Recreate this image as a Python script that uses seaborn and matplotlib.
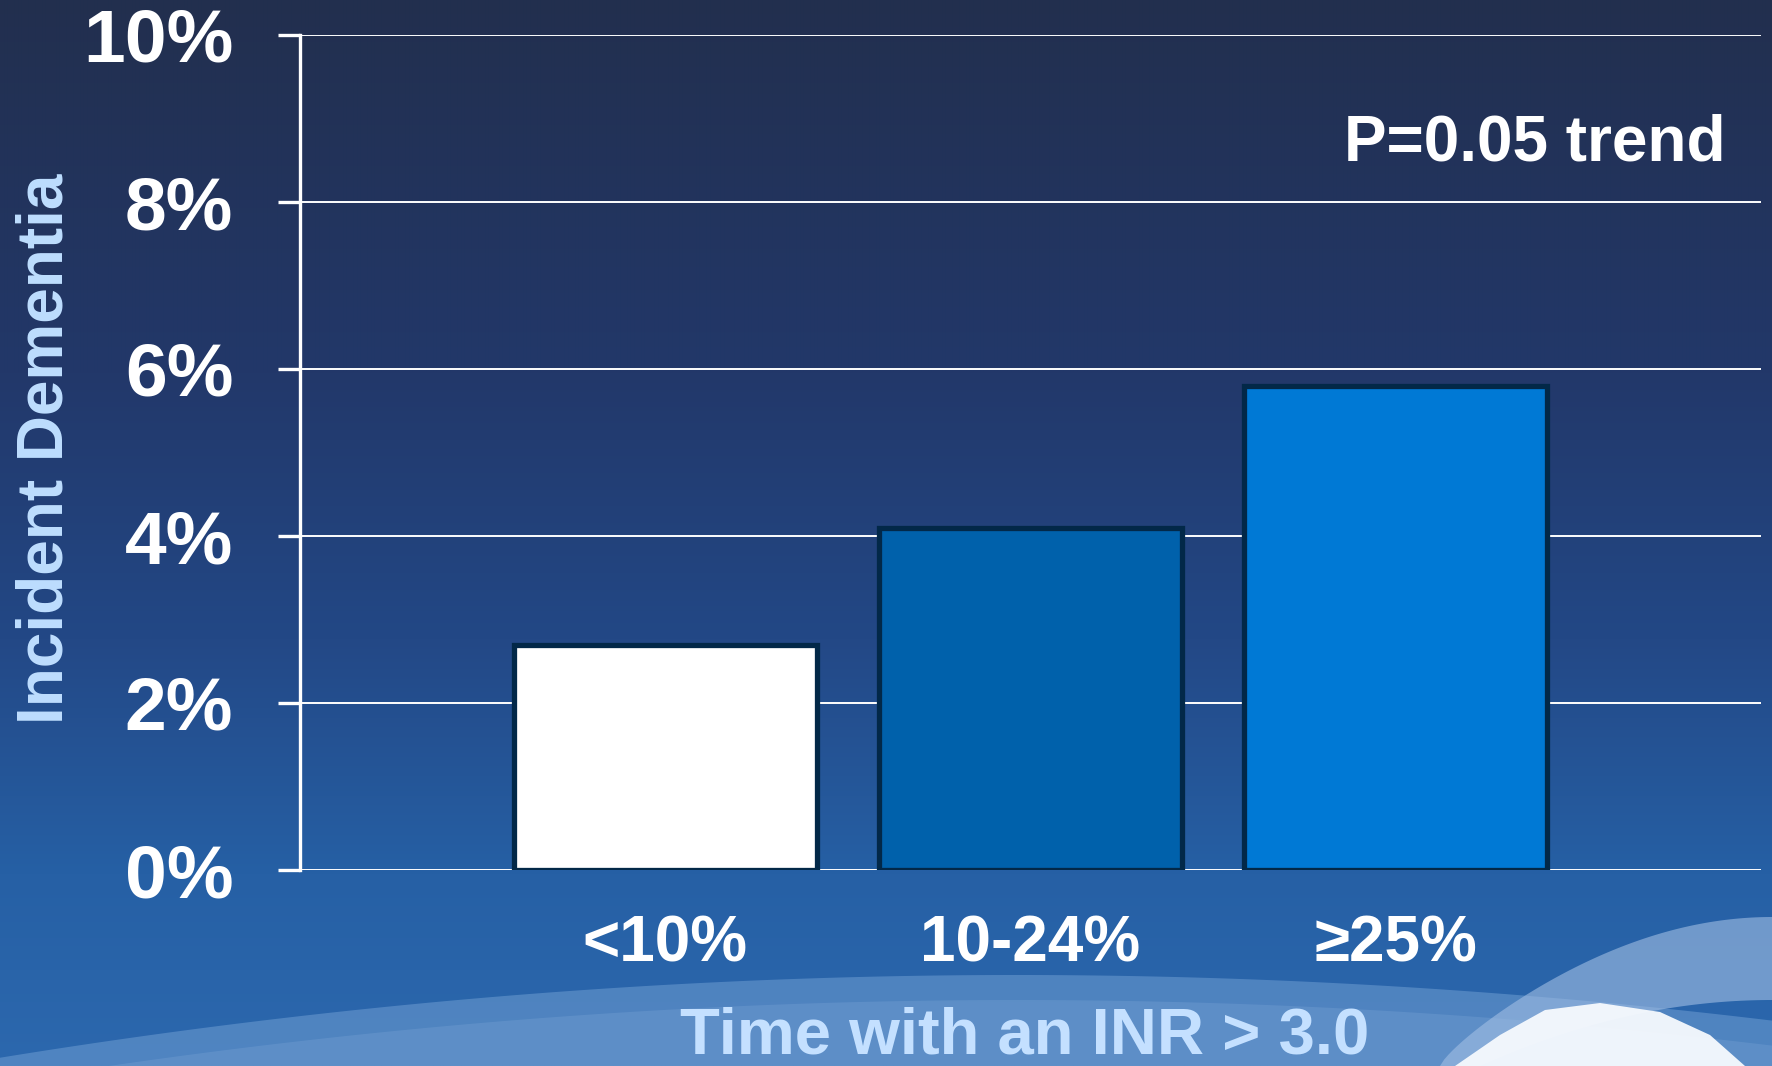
import numpy as np
import matplotlib
matplotlib.use("Agg")
import matplotlib.pyplot as plt
from matplotlib.patches import Polygon
from matplotlib.colors import to_rgb
import seaborn as sns

# Incident dementia by share of time spent with INR above 3.0
categories = ["<10%", "10-24%", "\u226525%"]
dementia_pct = [2.7, 4.1, 5.8]
bar_colors = ["#FFFFFF", "#0061AB", "#0079D5"]
y_ticks = [0, 2, 4, 6, 8, 10]
y_tick_labels = ["0%", "2%", "4%", "6%", "8%", "10%"]

sns.set_theme(style="white")
plt.rcParams["font.family"] = ["Liberation Sans", "DejaVu Sans"]
plt.rcParams["font.weight"] = "bold"

W, H, DPI = 1772, 1066, 200
fig = plt.figure(figsize=(W / DPI, H / DPI), dpi=DPI)

# ---- slide background: dark navy fading to blue, with light swooshes at the bottom
bg = fig.add_axes([0, 0, 1, 1], zorder=-10)
bg.set_axis_off()
stops = [(0.0, "#222F4E"), (0.35, "#22386A"), (0.6, "#234886"),
         (0.82, "#2660A5"), (1.0, "#2C68AE")]
ys = np.linspace(0, 1, H)
pos = [s[0] for s in stops]
cols = np.array([to_rgb(s[1]) for s in stops])
grad = np.stack([np.interp(ys, pos, cols[:, i]) for i in range(3)], axis=-1)
img = np.repeat(grad[:, None, :], 8, axis=1)
bg.imshow(img, extent=[0, W, H, 0], aspect="auto", interpolation="bilinear")
bg.set_xlim(0, W)
bg.set_ylim(H, 0)

# lighter dome across the bottom
xs = np.linspace(0, W, 300)
top = 975 + 8.0e-5 * (xs - 1017) ** 2
dome = np.vstack([np.column_stack([xs, top]), [[W, H], [0, H]]])
bg.add_patch(Polygon(dome, closed=True, facecolor="#6E9DD2", alpha=0.55,
                     edgecolor="none"))
dome2 = np.vstack([np.column_stack([xs, top + 25]), [[W, H], [0, H]]])
bg.add_patch(Polygon(dome2, closed=True, facecolor="#7FA8D8", alpha=0.3,
                     edgecolor="none"))

# pale band sweeping up to the right edge
t = np.linspace(0, 1, 80)
upper = np.column_stack([1440 + 332 * t, 1066 - 149 * np.sin(t * np.pi / 2) ** 0.8])
lower = np.column_stack([1772 - 292 * t, 1000 + 66 * t ** 2])
bg.add_patch(Polygon(np.vstack([upper, lower]), closed=True,
                     facecolor="#A2BFE4", alpha=0.6, edgecolor="none"))

# white swoosh in the lower right corner
white = np.array([[1455, 1066], [1500, 1035], [1545, 1010], [1600, 1003],
                  [1660, 1012], [1710, 1035], [1745, 1066]])
bg.add_patch(Polygon(white, closed=True, facecolor="#F7FAFE", alpha=0.95,
                     edgecolor="none"))

# ---- bar chart
ax = fig.add_axes([300 / W, 1 - 870 / H, 1461 / W, 835 / H])
ax.set_facecolor("none")
sns.barplot(x=categories, y=dementia_pct, hue=categories, palette=bar_colors,
            legend=False, width=0.83, edgecolor="#022848", linewidth=1.9,
            saturation=1, ax=ax, zorder=3)

ax.set_xlim(-1.0, 3.0)
ax.set_ylim(0, 10)
ax.set_yticks(y_ticks)
ax.set_yticklabels(y_tick_labels)
ax.set_axisbelow(True)
ax.yaxis.grid(True, color="white", linewidth=0.7)
ax.xaxis.grid(False)

for side in ["top", "right", "bottom"]:
    ax.spines[side].set_visible(False)
ax.spines["left"].set_color("white")
ax.spines["left"].set_linewidth(1.2)

ax.tick_params(axis="y", which="major", direction="out", length=8, width=1.2,
               color="white", pad=16, labelsize=27, labelcolor="white", left=True)
ax.tick_params(axis="x", length=0, pad=16, labelsize=23, labelcolor="white")
for lbl in ax.get_yticklabels() + ax.get_xticklabels():
    lbl.set_fontweight("bold")

ax.set_ylabel("Incident Dementia", fontsize=23, fontweight="bold",
              color="#BEDEFF", va="center")
ax.yaxis.set_label_coords(-0.174, 0.505)
ax.set_xlabel("Time with an INR > 3.0", fontsize=23.5, fontweight="bold",
              color="#C4E0FF", va="center")
ax.xaxis.set_label_coords(0.496, -0.2)

ax.text(0.976, 0.87, "P=0.05 trend", transform=ax.transAxes, ha="right",
        va="center", fontsize=23, fontweight="bold", color="white")

fig.savefig("out.png", dpi=DPI)
